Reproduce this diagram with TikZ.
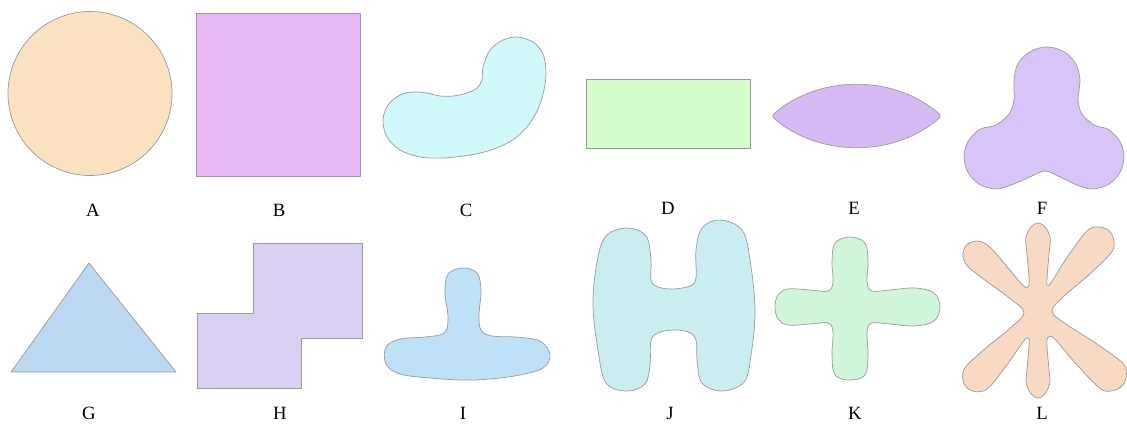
\documentclass[tikz,border=0pt]{standalone}
\usepackage{fontspec}
\setmainfont{Liberation Serif}
\definecolor{peach}{HTML}{FAE2C0}
\definecolor{orchid}{HTML}{E7B8F3}
\definecolor{icecyan}{HTML}{D1F8FB}
\definecolor{mint}{HTML}{D6FBCC}
\definecolor{lilac}{HTML}{D5BAF4}
\definecolor{lavender}{HTML}{D9C4F8}
\definecolor{skyblue}{HTML}{BDD8F2}
\definecolor{paleviolet}{HTML}{D9D0F3}
\definecolor{babyblue}{HTML}{BEE1F7}
\definecolor{aqua}{HTML}{C9EDF0}
\definecolor{seafoam}{HTML}{D0F5D8}
\definecolor{apricot}{HTML}{F8D9C3}
\definecolor{edge}{HTML}{9A9A9A}
\tikzset{
  blob/.style={draw=edge, line width=0.6pt, line join=round},
  tag/.style={font=\fontsize{16}{18}\selectfont, inner sep=0pt}
}
\begin{document}
\begin{tikzpicture}[x=0.03cm, y=-0.03cm]
    \useasboundingbox (0,0) rectangle (1127,427);

    \draw[blob, fill=peach] (90,93.5) circle (82);
    \draw[blob, fill=orchid] (196,13) rectangle (360,176);
    \draw[blob, fill=icecyan] plot[smooth cycle, tension=0.55] coordinates {
        (490,50) (503,40) (517,37) (533,42) (543,54) (546,72) (544,90) (538,109)
        (527,127) (511,141) (491,150) (470,155) (443,158) (420,157) (400,150)
        (387,137) (383,120) (388,105) (400,95) (413,92) (427,93) (440,96)
        (453,96) (467,93) (477,88) (482,80) (483,67)};
    \draw[blob, fill=mint] (586,79) rectangle (750,148);
    \draw[blob, fill=lilac] (776,112) .. controls (820,75) and (893,75) .. (937,112)
        .. controls (941,115) and (941,117) .. (937,120)
        .. controls (893,157) and (820,157) .. (776,120)
        .. controls (772,117) and (772,115) .. (776,112) -- cycle;
    \draw[blob, fill=lavender] plot[smooth cycle, tension=0.55] coordinates {
        (1014,80) (1018,63.5) (1030.5,51.4) (1047,47) (1063.5,51.4) (1075.6,63.5)
        (1080,80) (1078,100) (1082,114)
        (1094,125) (1108,129.3) (1119.7,141) (1124,157) (1119.7,173) (1108,184.7)
        (1092,189) (1076,184.7) (1060,177) (1045,171) (1030,177)
        (1012,184.7) (996,189) (980,184.7) (968.3,173) (964,157) (968.3,141)
        (980,129.3) (996,125) (1009,114) (1014,100)};

    \draw[blob, fill=skyblue] (11,372) -- (89,263) -- (176,372) -- cycle;
    \draw[blob, fill=paleviolet] (253,243) -- (362,243) -- (362,338) -- (301,338)
        -- (301,388) -- (197,388) -- (197,313) -- (253,313) -- cycle;
    \draw[blob, fill=babyblue] plot[smooth cycle, tension=0.6] coordinates {
        (463,268) (477,273) (481,290) (479,315) (481,330) (492,336) (515,337)
        (540,341) (550,355) (543,368) (520,375) (490,379) (463,380) (430,378)
        (400,374) (386,364) (386,347) (400,339) (425,337) (444,333) (448,318)
        (445,293) (448,274)};
    \draw[blob, fill=aqua] plot[smooth cycle, tension=0.6] coordinates {
        (627,228) (646,236) (651,260) (651,280) (658,287) (673,289) (690,286)
        (696,278) (696,250) (702,228) (720,220) (742,230) (750,260) (755,310)
        (751,355) (744,382) (722,391) (702,383) (697,360) (696,340) (688,332)
        (673,330) (658,333) (651,341) (650,365) (645,384) (627,391) (606,383)
        (598,350) (593,305) (597,262) (606,236)};
    \begin{scope}[shift={(850,307)}]
        \draw[blob, fill=seafoam] plot[smooth cycle, tension=0.6] coordinates {
            (0,-70) (15,-64) (18,-45) (17,-25) (22,-16) (40,-17) (65,-19) (84,-14)
            (90,0) (84,14) (65,19) (40,17) (22,16) (17,25) (18,48) (15,68)
            (0,73) (-15,68) (-18,48) (-17,25) (-22,16) (-40,17) (-62,18) (-72,12)
            (-75,0) (-72,-12) (-62,-18) (-40,-17) (-22,-16) (-17,-25) (-18,-45)
            (-15,-64)};
    \end{scope}
    \begin{scope}[shift={(1038,312)}]
        \draw[blob, fill=apricot] plot[smooth cycle, tension=0.55] coordinates {
            (-106:32) (-100.5:62) (-99.5:75) (-95:85) (-90:89) (-85:85) (-80.5:75) (-79.5:62) (-74:32)
            (-69.5:29)
            (-66:32) (-62:62) (-59:94) (-55:104) (-49:108) (-43:104) (-39:94) (-36:62) (-32:32)
            (-4:14)
            (24:32) (28:62) (31:98) (35:108) (41:112) (47:108) (51:98) (54:62) (58:32)
            (65.5:27)
            (74:32) (79.5:62) (80.5:72) (85:82) (90:86) (95:82) (99.5:72) (100.5:62) (106:32)
            (111.5:28)
            (116:32) (120.5:62) (123:90) (127:100) (133:104) (139:100) (143:90) (145.5:62) (150:32)
            (178:14)
            (206:32) (211:62) (213:84) (217:94) (223:98) (229:94) (233:84) (235:62) (240:32)
            (246.5:27)};
    \end{scope}

    \node[tag] (a) at (93,210) {A};
    \node[tag] (b) at (279,210) {B};
    \node[tag] (c) at (466,210) {C};
    \node[tag] (d) at (668,208) {D};
    \node[tag] (e) at (854,208) {E};
    \node[tag] (f) at (1042,208) {F};
    \node[tag] (g) at (89,413) {G};
    \node[tag] (h) at (280,413) {H};
    \node[tag] (i) at (463,413) {I};
    \node[tag] (j) at (670,413) {J};
    \node[tag] (k) at (855,413) {K};
    \node[tag] (l) at (1042,413) {L};
\end{tikzpicture}
\end{document}
